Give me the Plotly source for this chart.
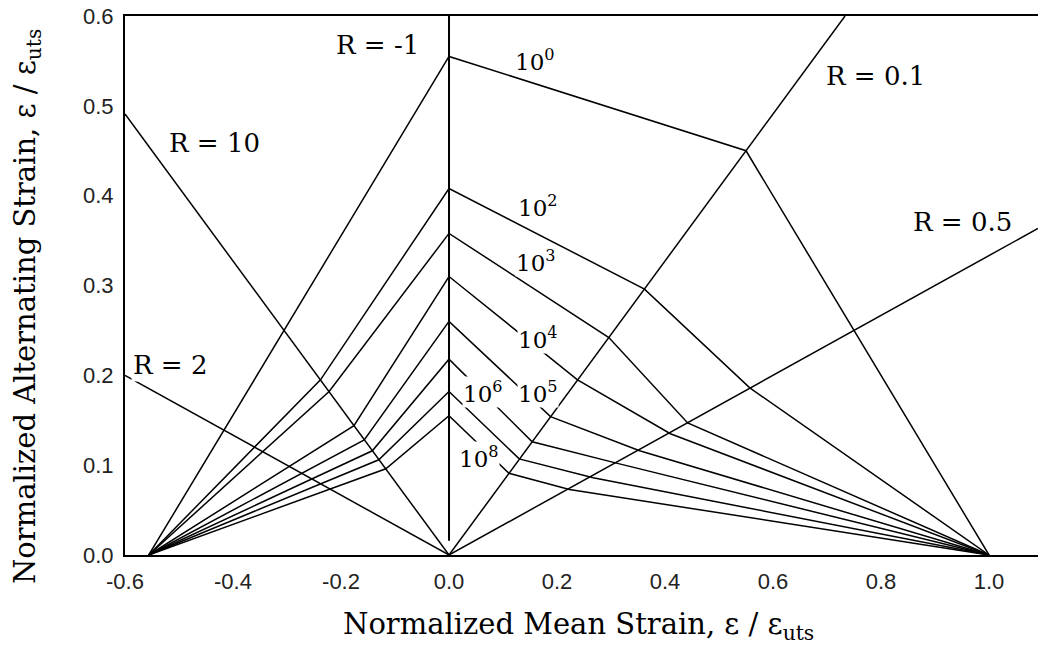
import plotly.graph_objects as go

# ---- data ----
# stress-ratio lines (R = min/max strain); each is a ray from the origin
r_values = [10, 2, 0.1, 0.5]

# constant-life curves: (mean strain, alternating strain) vertices
life_cycles = ["10^0", "10^2", "10^3", "10^4", "10^5", "10^6", "10^7", "10^8"]
curve_mean = [
    [-0.556, 0.0, 0.55, 1.0],
    [-0.556, -0.238, 0.0, 0.362, 0.557, 1.0],
    [-0.556, -0.222, 0.0, 0.296, 0.442, 1.0],
    [-0.556, -0.176, 0.0, 0.238, 0.410, 1.0],
    [-0.556, -0.157, 0.0, 0.188, 0.353, 1.0],
    [-0.556, -0.142, 0.0, 0.154, 0.312, 1.0],
    [-0.556, -0.130, 0.0, 0.130, 0.267, 1.0],
    [-0.556, -0.117, 0.0, 0.111, 0.223, 1.0],
]
curve_alt = [
    [0.0, 0.555, 0.45, 0.0],
    [0.0, 0.195, 0.408, 0.296, 0.186, 0.0],
    [0.0, 0.182, 0.358, 0.242, 0.147, 0.0],
    [0.0, 0.144, 0.310, 0.195, 0.135, 0.0],
    [0.0, 0.128, 0.260, 0.154, 0.116, 0.0],
    [0.0, 0.116, 0.218, 0.126, 0.102, 0.0],
    [0.0, 0.106, 0.182, 0.107, 0.086, 0.0],
    [0.0, 0.096, 0.155, 0.091, 0.073, 0.0],
]

# label texts and positions (mean, alt)
r_label_text = ["R = -1", "R = 10", "R = 2", "R = 0.1", "R = 0.5"]
r_label_pos = [(-0.132, 0.568), (-0.434, 0.459), (-0.517, 0.212), (0.789, 0.533), (0.95, 0.371)]
life_label_text = ["10<sup>0</sup>", "10<sup>2</sup>", "10<sup>3</sup>", "10<sup>4</sup>",
                   "10<sup>5</sup>", "10<sup>6</sup>", "10<sup>8</sup>"]
life_label_pos = [(0.159, 0.551), (0.165, 0.389), (0.161, 0.327), (0.165, 0.242),
                  (0.165, 0.181), (0.063, 0.181), (0.056, 0.109)]

x_range = [-0.6, 1.0907]
y_range = [0.0, 0.6]
x_ticks = [-0.6, -0.4, -0.2, 0.0, 0.2, 0.4, 0.6, 0.8, 1.0]
y_ticks = [0.0, 0.1, 0.2, 0.3, 0.4, 0.5, 0.6]

fig = go.Figure()
line_style = dict(color="black", width=1.5)

# R lines
for R in r_values:
    slope = (1 - R) / (1 + R)  # alt / mean
    if R > 1:
        xe = x_range[0]
    else:
        xe = min(x_range[1], y_range[1] / slope)
    fig.add_trace(go.Scatter(x=[0, xe], y=[0, slope * xe], mode="lines",
                             line=line_style, hoverinfo="skip", showlegend=False))
# R = -1 (zero mean)
fig.add_trace(go.Scatter(x=[0, 0], y=[0.016, 0.6], mode="lines",
                         line=dict(color="black", width=2), hoverinfo="skip", showlegend=False))

for name, xs, ys in zip(life_cycles, curve_mean, curve_alt):
    fig.add_trace(go.Scatter(x=xs, y=ys, mode="lines", line=line_style, name=name,
                             hoverinfo="skip", showlegend=False))

serif = "DejaVu Serif"
for txt, (xx, yy) in zip(r_label_text, r_label_pos):
    fig.add_annotation(x=xx, y=yy, text=txt, showarrow=False,
                       font=dict(family=serif, size=26, color="black"), bgcolor="white")
for txt, (xx, yy) in zip(life_label_text, life_label_pos):
    fig.add_annotation(x=xx, y=yy, text=txt, showarrow=False,
                       font=dict(family=serif, size=23, color="black"), bgcolor="white",
                       borderpad=0)

# axis titles
fig.add_annotation(xref="paper", yref="paper", x=0.5, y=0, yshift=-71, xshift=-3,
                   xanchor="center", yanchor="middle",
                   text="Normalized Mean Strain, ε / ε<sub>uts</sub>", showarrow=False,
                   font=dict(family=serif, size=29, color="black"))
fig.add_annotation(xref="paper", yref="paper", x=0, y=0.46, xshift=-98, textangle=-90,
                   xanchor="center", yanchor="middle",
                   text="Normalized Alternating Strain, ε / ε<sub>uts</sub>", showarrow=False,
                   font=dict(family=serif, size=29, color="black"))

tickfont = dict(family="Liberation Sans", size=22, color="#222")
fig.update_layout(
    width=1038, height=647,
    margin=dict(l=125, r=0, t=16, b=92),
    paper_bgcolor="white", plot_bgcolor="white",
    font=dict(family="Liberation Sans", size=22, color="#222"),
    xaxis=dict(range=x_range, tickvals=x_ticks, ticktext=[f"{v:.1f}" for v in x_ticks],
               showgrid=False, zeroline=False, showline=True, linecolor="black", linewidth=2,
               mirror=True, ticks="outside", ticklen=6, tickcolor="rgba(0,0,0,0)",
               tickfont=tickfont),
    yaxis=dict(range=y_range, tickvals=y_ticks, ticktext=[f"{v:.1f}" for v in y_ticks],
               showgrid=False, zeroline=False, showline=True, linecolor="black", linewidth=2,
               ticks="outside", ticklen=5, tickcolor="rgba(0,0,0,0)", tickfont=tickfont),
)

fig.write_html("out.html")
